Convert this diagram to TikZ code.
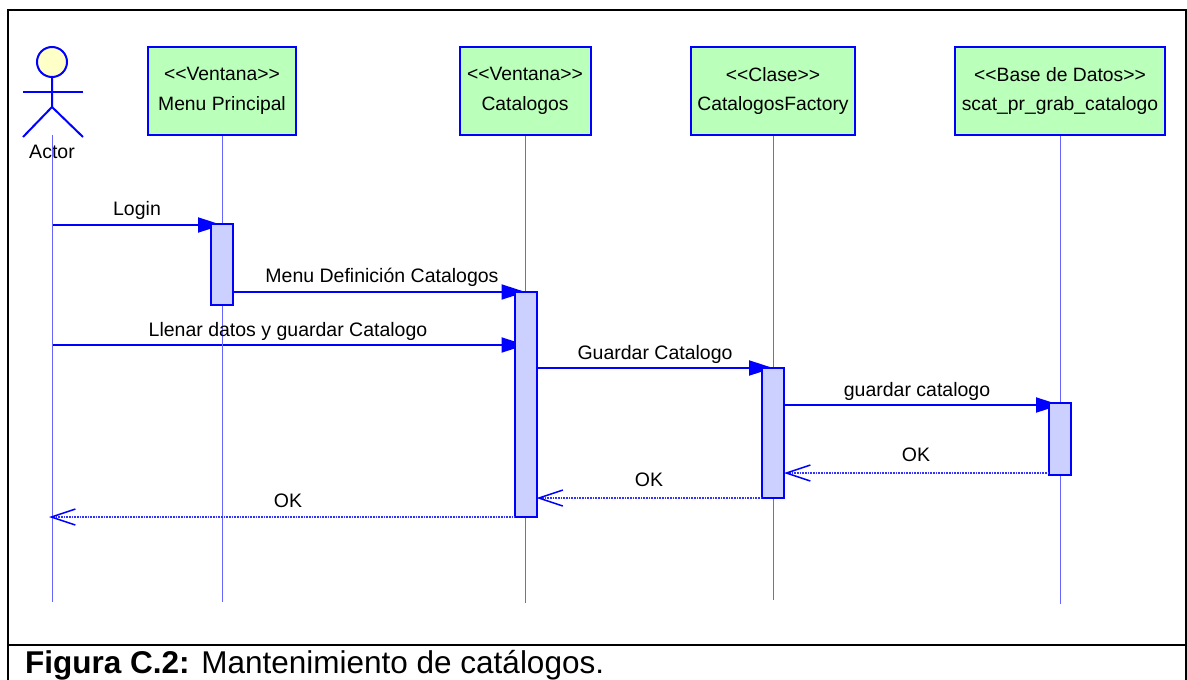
\documentclass[tikz,border=0pt]{standalone}
\usepackage{fontspec}
\setmainfont{Liberation Sans}
\usetikzlibrary{arrows.meta,backgrounds}
\definecolor{umlblue}{RGB}{0,0,255}
\definecolor{boxgreen}{RGB}{186,255,186}
\definecolor{barblue}{RGB}{204,208,255}
\definecolor{headyellow}{RGB}{255,255,200}
\newcommand{\stereo}[1]{\textless\kern0pt\textless #1\textgreater\kern0pt\textgreater}
\begin{document}
\begin{tikzpicture}[x=1pt, y=-1pt,
  obj/.style = {draw=umlblue, fill=boxgreen, line width=2pt, minimum width=148pt, minimum height=88pt, inner sep=0pt, align=center, font=\fontsize{19.3}{29.5}\selectfont},
  bar/.style = {draw=umlblue, fill=barblue, line width=2pt, minimum width=22pt, inner sep=0pt, outer sep=0pt},
  life/.style = {umlblue!60, line width=0.7pt},
  msg/.style = {umlblue, line width=2pt, -{Triangle[length=24pt, width=15pt]}},
  ret/.style = {umlblue!80, line width=1.2pt, dash pattern=on 1pt off 0.6pt, -{Straight Barb[umlblue, length=24pt, width=16pt, line width=1.5pt]}},
  lbl/.style = {font=\fontsize{19.5}{22}\selectfont, inner sep=0pt}]
    \useasboundingbox (0,0) rectangle (1187,680);
    \node (frame) [draw, line width=2.5pt, minimum width=1178pt, minimum height=690pt, inner sep=0pt] at (597,355) {};
    \draw [line width=2.5pt] (frame.west |- 0,645) coordinate (divl) -- (frame.east |- 0,645) coordinate (divr);
    \node (cap) [anchor=base west, inner sep=0pt, font=\fontsize{31.5}{36}\selectfont] at (25,673) {\textbf{Figura C.2:} Mantenimiento de catálogos.};

    % objetos
    \node (menu) [obj] at (222,91) {\stereo{Ventana}\\Menu Principal};
    \node (cata) [obj, minimum width=131pt] at (525,91) {\stereo{Ventana}\\Catalogos};
    \node (fact) [obj, minimum width=164pt] at (773,91) {\stereo{Clase}\\CatalogosFactory};
    \node (base) [obj, minimum width=210pt] at (1060,91) {\stereo{Base de Datos}\\scat\_pr\_grab\_catalogo};

    % actor
    \node (head) [circle, draw=umlblue, fill=headyellow, line width=2pt, minimum size=30pt, inner sep=0pt] at (52,62) {};
    \coordinate (hip) at (52,107);
    \coordinate (arml) at (23,92);
    \coordinate (armr) at (83,92);
    \coordinate (legl) at (23,137);
    \coordinate (legr) at (83,137);
    \draw [umlblue, line width=2pt] (head) -- (hip) -- (legl);
    \draw [umlblue, line width=2pt] (hip) -- (legr);
    \draw [umlblue, line width=2pt] (arml) -- (armr);
    \node (actor) [lbl] at (52,152) {Actor};

    % lineas de vida
    \coordinate (actortop) at (52,135);
    \coordinate (actorend) at (52,602);
    \coordinate (menuend) at (222,602);
    \coordinate (cataend) at (525,603);
    \coordinate (factend) at (773,600);
    \coordinate (baseend) at (1060,604);
    \draw [life] (actortop) -- (actorend);
    \draw [life] (menu) -- (menuend);
    \draw [life] (cata) -- (cataend);
    \draw [life] (fact) -- (factend);
    \draw [life] (base) -- (baseend);

    % activaciones
    \node (barmenu) [bar, minimum height=81pt] at (222,264) {};
    \node (barcata) [bar, minimum height=225pt] at (525.5,404.5) {};
    \node (barfact) [bar, minimum height=130pt] at (773,433) {};
    \node (barbase) [bar, minimum height=72pt] at (1060,438.5) {};

    % mensajes, las puntas quedan debajo de las activaciones
    \coordinate (loginfrom) at (52,225);
    \coordinate (llenarfrom) at (52,345);
    \coordinate (okend) at (49,517);
    \begin{scope}[on background layer]
      \draw [msg] (loginfrom) -- (barmenu.center |- loginfrom);
      \draw [msg] (barmenu.east |- barcata.north) -- (barcata.north);
      \draw [msg] (llenarfrom) -- (barcata.center |- llenarfrom);
      \draw [msg] (barcata.east |- barfact.north) -- (barfact.north);
      \draw [msg] (barfact.east |- 0,405) -- (barbase.center |- 0,405);
    \end{scope}
    \draw [ret] (barbase.west |- 0,473) -- (barfact.east |- 0,473);
    \draw [ret] (barfact.south west) -- (barcata.east |- barfact.south);
    \draw [ret] (barcata.south west) -- (okend);

    % etiquetas
    \node (l1) [lbl] at (137,210) {Login};
    \node (l2) [lbl] at (382,277) {Menu Definición Catalogos};
    \node (l3) [lbl] at (288,331) {Llenar datos y guardar Catalogo};
    \node (l4) [lbl] at (655,354) {Guardar Catalogo};
    \node (l5) [lbl] at (917,391) {guardar catalogo};
    \node (l6) [lbl] at (916,455) {OK};
    \node (l7) [lbl] at (649,480) {OK};
    \node (l8) [lbl] at (288,501) {OK};
  \end{tikzpicture}
\end{document}
